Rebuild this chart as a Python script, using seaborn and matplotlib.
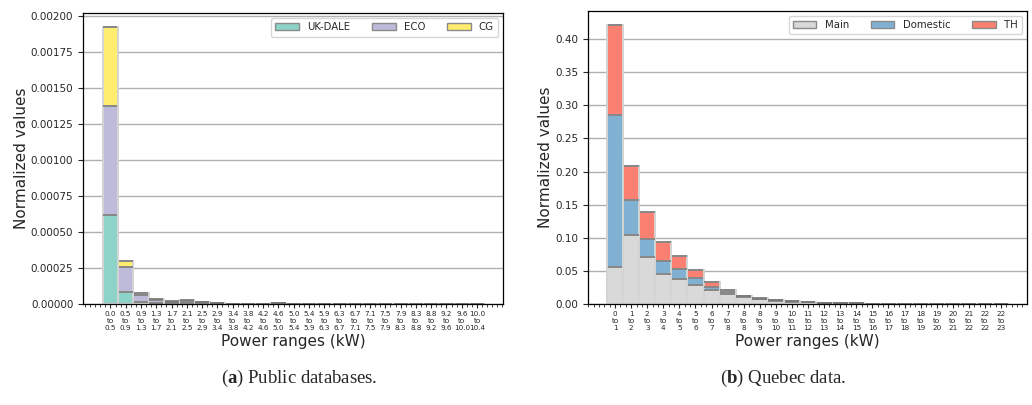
import numpy as np
import pandas as pd
import seaborn as sns
import matplotlib
matplotlib.use("Agg")
import matplotlib.pyplot as plt
from matplotlib.patches import Patch
from matplotlib.ticker import MultipleLocator, FormatStrFormatter

# ---------------- data ----------------
left_labels = ["0.0\nto\n0.5", "0.5\nto\n0.9", "0.9\nto\n1.3", "1.3\nto\n1.7", "1.7\nto\n2.1",
               "2.1\nto\n2.5", "2.5\nto\n2.9", "2.9\nto\n3.4", "3.4\nto\n3.8", "3.8\nto\n4.2",
               "4.2\nto\n4.6", "4.6\nto\n5.0", "5.0\nto\n5.4", "5.4\nto\n5.9", "5.9\nto\n6.3",
               "6.3\nto\n6.7", "6.7\nto\n7.1", "7.1\nto\n7.5", "7.5\nto\n7.9", "7.9\nto\n8.3",
               "8.3\nto\n8.8", "8.8\nto\n9.2", "9.2\nto\n9.6", "9.6\nto\n10.0", "10.0\nto\n10.4"]
ukdale = [6.2e-4, 8.5e-5, 1.2e-5, 6e-6, 5e-6, 1.0e-5, 5e-6, 2e-6, 1e-6, 1e-6, 1e-6, 3e-6, 1e-6,
          1e-6, 1e-6, 1e-6, 1e-6, 1e-6, 1e-6, 1e-6, 1e-6, 1e-6, 1e-6, 1e-6, 1e-6]
eco = [7.5e-4, 1.75e-4, 5.0e-5, 2.0e-5, 1.0e-5, 1.2e-5, 6e-6, 3e-6, 1e-6, 1e-6, 1e-6, 3e-6, 1e-6,
       1e-6, 1e-6, 1e-6, 1e-6, 1e-6, 1e-6, 1e-6, 1e-6, 1e-6, 1e-6, 1e-6, 1e-6]
cg = [5.5e-4, 3.6e-5, 1.3e-5, 6e-6, 5e-6, 5e-6, 4e-6, 1e-6, 1e-6, 0, 0, 2e-6, 0,
      0, 0, 0, 0, 0, 0, 0, 0, 0, 0, 0, 0]
left_series = ["UK-DALE", "ECO", "CG"]

right_labels = ["0\nto\n1", "1\nto\n2", "2\nto\n3", "3\nto\n4", "4\nto\n5", "5\nto\n6", "6\nto\n7",
                "7\nto\n8", "8\nto\n8", "8\nto\n9", "9\nto\n10", "10\nto\n11", "11\nto\n12",
                "12\nto\n13", "13\nto\n14", "14\nto\n15", "15\nto\n16", "16\nto\n17", "17\nto\n18",
                "18\nto\n19", "19\nto\n20", "20\nto\n21", "21\nto\n22", "22\nto\n22", "22\nto\n23"]
main = [0.056, 0.104, 0.0705, 0.046, 0.037, 0.0287, 0.021, 0.015, 0.011, 0.0075, 0.0052, 0.0035,
        0.0025, 0.0015, 0.001, 0.0008, 0.0006, 0.0005, 0.0004, 0.0003, 0.0003, 0.0002, 0.0002,
        0.0001, 0.0001]
domestic = [0.229, 0.053, 0.027, 0.019, 0.016, 0.010, 0.005, 0.0025, 0.001, 0.0007, 0.0005, 0.0003,
            0.0002, 0.0001, 0.0001, 0, 0, 0, 0, 0, 0, 0, 0, 0, 0]
th = [0.136, 0.051, 0.041, 0.029, 0.0195, 0.0133, 0.0065, 0.003, 0.0005, 0.0003, 0.0002, 0.0002,
      0.0001, 0.0001, 0, 0, 0, 0, 0, 0, 0, 0, 0, 0, 0]
right_series = ["Main", "Domestic", "TH"]

left_colors = ["#8dd3c7", "#bebada", "#ffed6f"]
right_colors = ["#d9d9d9", "#80b1d3", "#fb8072"]

# ---------------- style ----------------
sns.set_style("ticks")
plt.rcParams["font.family"] = ["DejaVu Sans"]
plt.rcParams["mathtext.fontset"] = "custom"
plt.rcParams["mathtext.rm"] = "Liberation Serif"
plt.rcParams["mathtext.bf"] = "Liberation Serif:bold"

fig = plt.figure(figsize=(10.32, 4.05), dpi=100)
ax1 = fig.add_axes([0.0804, 0.2494, 0.407, 0.7176])
ax2 = fig.add_axes([0.5695, 0.2494, 0.4254, 0.7227])


def stacked(ax, labels, series_vals, names, colors):
    df = pd.DataFrame({"label": labels})
    cum = np.zeros(len(labels))
    cums = []
    for v in series_vals:
        cum = cum + np.array(v)
        cums.append(cum.copy())
    ax.set_axisbelow(True)
    ax.grid(axis="y", color="#b0b0b0", linewidth=1.0)
    # draw from top layer to bottom layer
    for c, col in zip(cums[::-1], colors[::-1]):
        d = df.assign(val=c)
        sns.barplot(data=d, x="label", y="val", color=col, saturation=1, width=1.0,
                    edgecolor="#d4d4d4", linewidth=1.4, ax=ax, order=labels)
    for p in list(ax.patches):
        h = p.get_height()
        if h > 0:
            ax.plot([p.get_x() + 0.04, p.get_x() + p.get_width() - 0.04], [h, h],
                    color="#7a7a7a", linewidth=1.2, solid_capstyle="butt", zorder=p.get_zorder() + 0.1)
    handles = [Patch(facecolor=c, edgecolor="#8a8a8a", linewidth=1.0) for c in colors]
    ax.legend(handles, names, ncol=3, loc="upper right", fontsize=7.3, handlelength=2.3,
              columnspacing=2.2, handletextpad=0.8, borderpad=0.4, framealpha=0.8)
    ax.set_xlabel("Power ranges (kW)", fontsize=11, labelpad=2)
    ax.set_ylabel("Normalized values", fontsize=11, labelpad=1)
    ax.tick_params(axis="x", labelsize=5.2, length=3, pad=2)
    ax.tick_params(axis="y", labelsize=7.5, length=3.5)
    ax.xaxis.set_minor_locator(MultipleLocator(1 / 3))
    ax.tick_params(axis="x", which="minor", length=1.8)
    for s in ax.spines.values():
        s.set_visible(True)
        s.set_color("black")
        s.set_linewidth(0.9)


stacked(ax1, left_labels, [ukdale, eco, cg], left_series, left_colors)
stacked(ax2, right_labels, [main, domestic, th], right_series, right_colors)

ax1.set_xlim(-1.8, 25.7)
ax1.set_ylim(0, 0.002016)
ax1.yaxis.set_major_locator(MultipleLocator(0.00025))
ax1.yaxis.set_major_formatter(FormatStrFormatter("%.5f"))

ax2.set_xlim(-1.7, 25.6)
ax2.set_ylim(0, 0.442)
ax2.yaxis.set_major_locator(MultipleLocator(0.05))
ax2.yaxis.set_major_formatter(FormatStrFormatter("%.2f"))

fig.text(299 / 1032, 1 - 378 / 405, r"($\mathbf{a}$) Public databases.", ha="center", va="center",
         fontsize=13.5, family="Liberation Serif")
fig.text(783 / 1032, 1 - 378 / 405, r"($\mathbf{b}$) Quebec data.", ha="center", va="center",
         fontsize=13.5, family="Liberation Serif")

fig.savefig("out.png", dpi=100)
